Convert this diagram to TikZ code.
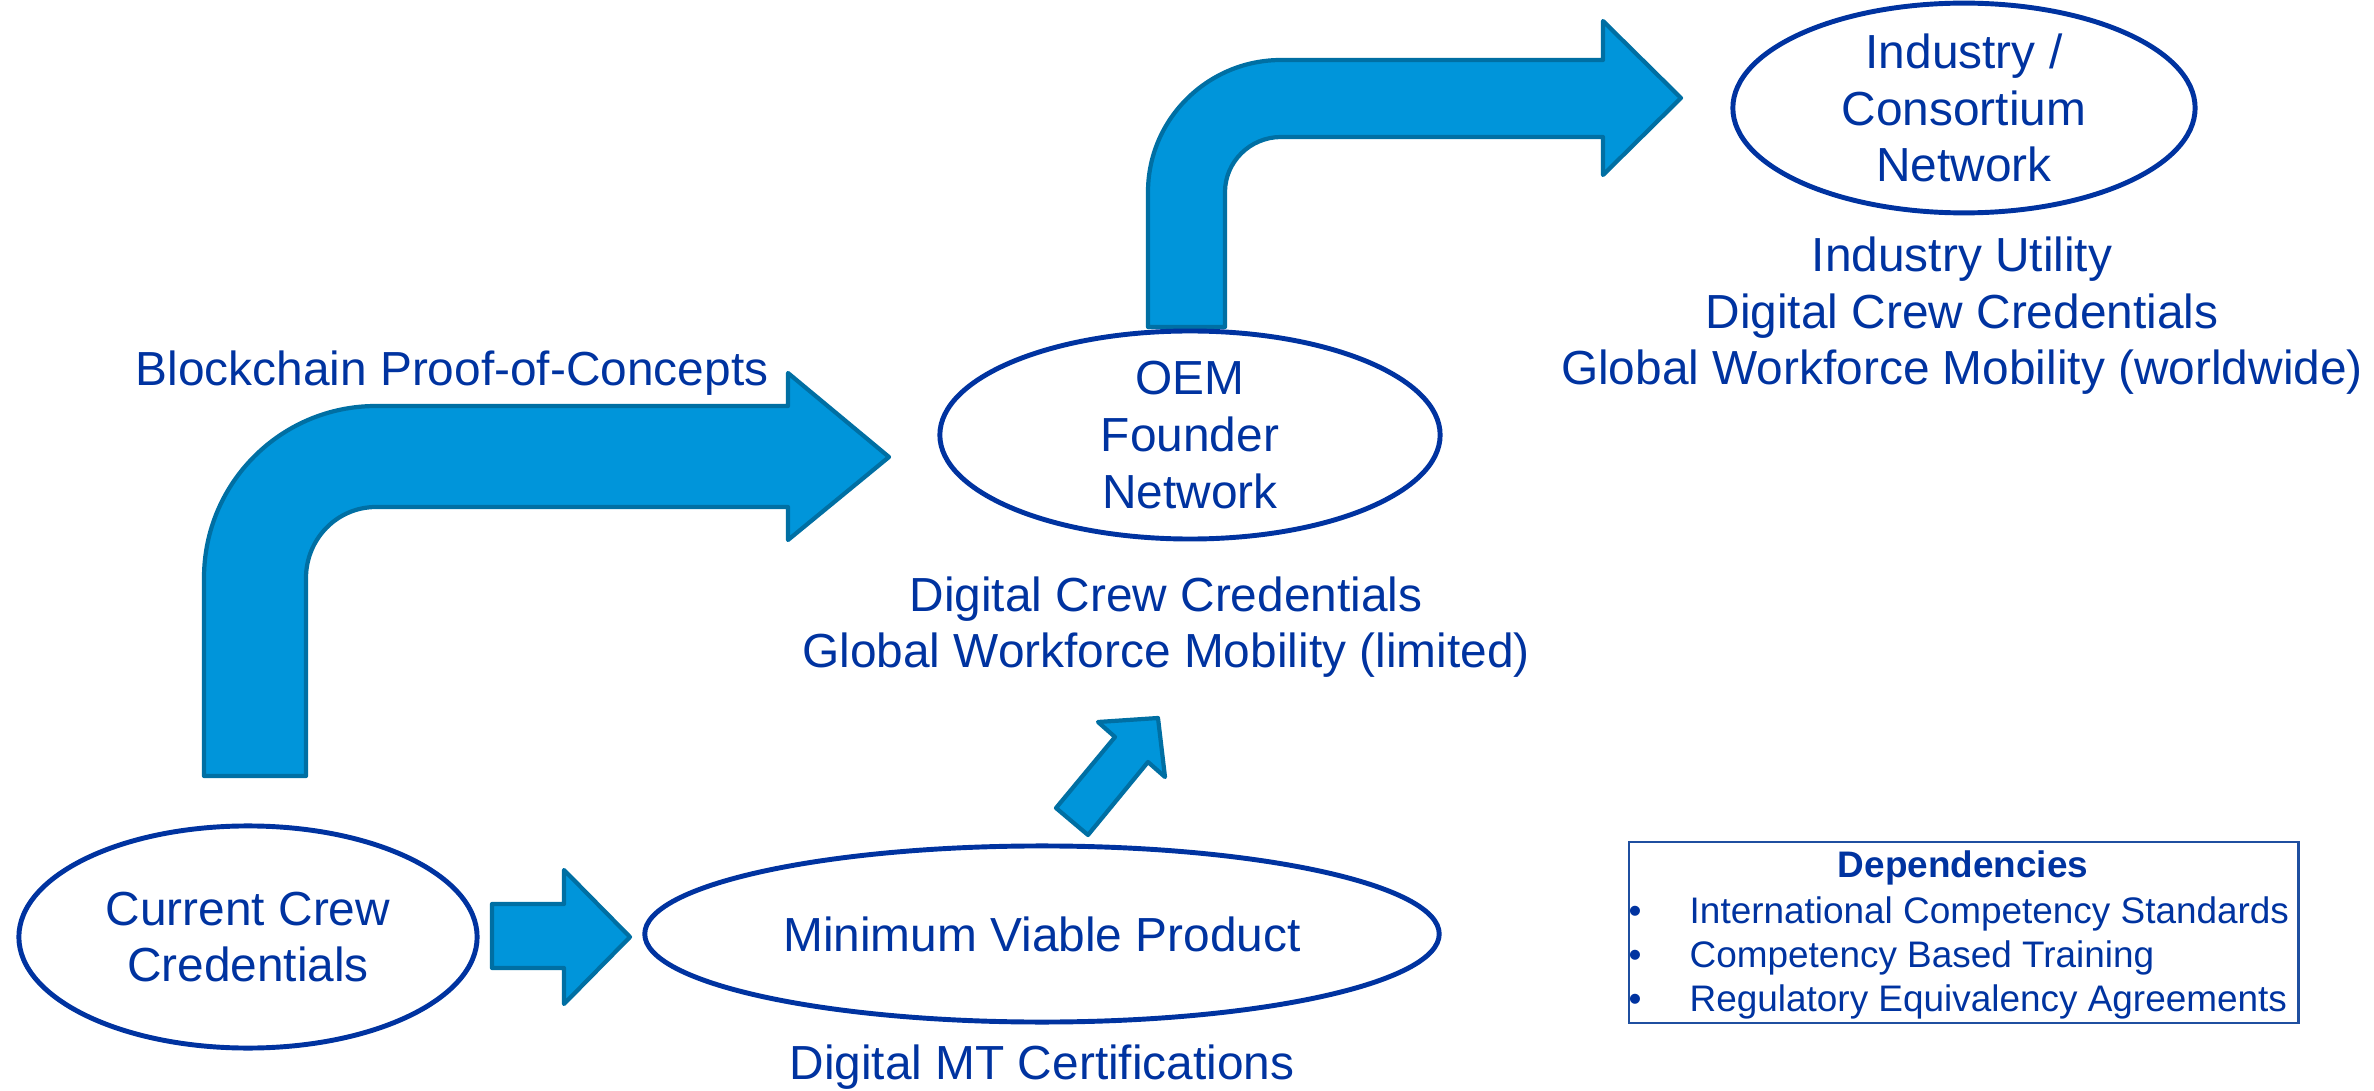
\documentclass[tikz,border=0pt]{standalone}
\usepackage{fontspec}
\setmainfont{Liberation Sans}
\usetikzlibrary{shapes.geometric}
\definecolor{txtblue}{HTML}{0033A0}
\definecolor{arrfill}{HTML}{0095DA}
\definecolor{arrline}{HTML}{006FA3}
\definecolor{boxline}{HTML}{1F4FA0}
\begin{document}
\begin{tikzpicture}[x=0.01cm,y=-0.01cm,
  every node/.style={text=txtblue},
  mainfont/.style={font=\fontsize{13.6}{16.1}\selectfont, align=center},
  ovalnode/.style={ellipse, draw=txtblue, line width=1.4pt, inner sep=0pt, mainfont},
  blockarrow/.style={fill=arrfill, draw=arrline, line width=1.2pt, line join=round},
  txtlabel/.style={mainfont, inner sep=0pt},
  itemfont/.style={font=\fontsize{10.5}{12.5}\selectfont, inner sep=0pt}]
\useasboundingbox (0,0) rectangle (2374,1091);

% block arrows
\path[blockarrow] (204,776) -- (204,578) .. controls (204,483) and (281,406) .. (376,406)
  -- (788,406) -- (788,373) -- (889,457) -- (788,540) -- (788,507) -- (376,507)
  .. controls (337,507) and (306,539) .. (306,578) -- (306,776) -- cycle;
\path[blockarrow] (1148,327) -- (1148,192) .. controls (1148,119) and (1208,60) .. (1281,60)
  -- (1603,60) -- (1603,21) -- (1681,98) -- (1603,175) -- (1603,137) -- (1281,137)
  .. controls (1250,137) and (1225,162) .. (1225,192) -- (1225,327) -- cycle;
\path[blockarrow] (492,904) -- (564,904) -- (564,870) -- (630,937) -- (564,1004)
  -- (564,968) -- (492,968) -- cycle;
\path[blockarrow] (1056,808) -- (1115,737) -- (1098,722) -- (1158,718) -- (1165,777)
  -- (1148,762) -- (1088,835) -- cycle;

% ellipses
\node[ovalnode, minimum width=4.58cm, minimum height=2.22cm] (cur) at (248,937) {Current Crew\\Credentials};
\node[ovalnode, minimum width=7.94cm, minimum height=1.76cm] (mvp) at (1042,934) {Minimum Viable Product};
\node[ovalnode, minimum width=5.0cm, minimum height=1.8cm] (oem) at (1190,435) {OEM\\Founder\\Network};
\node[ovalnode, minimum width=4.62cm, minimum height=1.86cm] (ind) at (1964,108) {Industry /\\Consortium\\Network};

% labels
\node[txtlabel, anchor=base] (bpc) at (452,386) {Blockchain Proof-of-Concepts};
\node[txtlabel] (oemtxt) at (1166,627) {Digital Crew Credentials\\Global Workforce Mobility (limited)};
\node[txtlabel] (indtxt) at (1962,316) {Industry Utility\\Digital Crew Credentials\\Global Workforce Mobility (worldwide)};
\node[txtlabel, anchor=base] (mvptxt) at (1042,1079) {Digital MT Certifications};

% dependencies box
\node[draw=boxline, line width=0.6pt, minimum width=6.69cm, minimum height=1.81cm, inner sep=0pt, anchor=north west] (deps) at (1628,841) {};
\node[itemfont, font=\fontsize{10.5}{12.5}\selectfont\bfseries, anchor=base] (dtitle) at (1963,877) {Dependencies};
\node[itemfont, anchor=base] (b1) at (1635,923) {•};
\node[itemfont, anchor=base] (b2) at (1635,967) {•};
\node[itemfont, anchor=base] (b3) at (1635,1011) {•};
\node[itemfont, anchor=base west] (i1) at (1689,923) {International Competency Standards};
\node[itemfont, anchor=base west] (i2) at (1689,967) {Competency Based Training};
\node[itemfont, anchor=base west] (i3) at (1689,1011) {Regulatory Equivalency Agreements};
\end{tikzpicture}
\end{document}
